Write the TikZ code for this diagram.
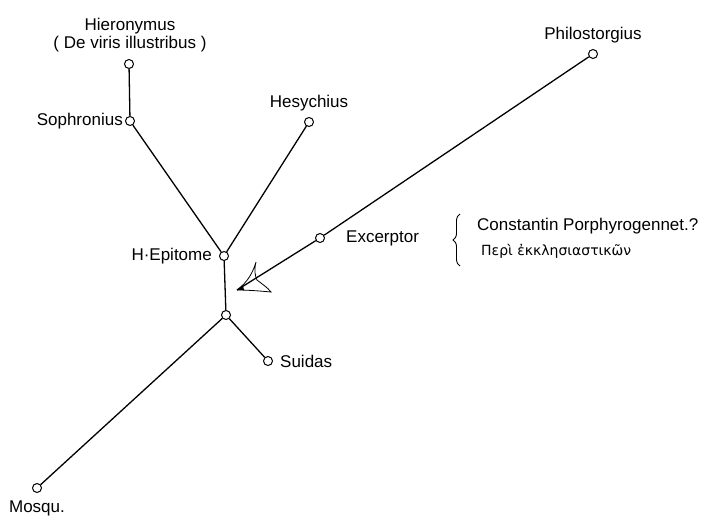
\documentclass[tikz,border=0pt]{standalone}
\usepackage{fontspec}
\setmainfont{Liberation Sans}
\newfontfamily\greekfont[Script=Greek]{DejaVu Sans}
\usetikzlibrary{positioning,decorations.pathreplacing}

\begin{document}
\begin{tikzpicture}[x=1pt,y=-1pt,
    stemma/.style={circle,draw,line width=1pt,fill=white,inner sep=0pt,minimum size=9pt},
    lbl/.style={font=\fontsize{17}{20}\selectfont,inner sep=1pt},
    link/.style={line width=1.3pt}]
  \useasboundingbox (0,0) rectangle (727,521);
  % handschriften
  \node[stemma] (Hie) at (129,64) {};
  \node[stemma] (Sop) at (130,121) {};
  \node[stemma] (Hes) at (309,122) {};
  \node[stemma] (Phi) at (593,54) {};
  \node[stemma] (Exc) at (320,238) {};
  \node[stemma] (Epi) at (224,256) {};
  \node[stemma] (Jun) at (226,315) {};
  \node[stemma] (Sui) at (268,361) {};
  \node[stemma] (Mos) at (37,488) {};
  \coordinate (Tip) at (237,290);
  % namen
  \node[lbl] (HieT) at (130,44) {( De viris illustribus )};
  \node[lbl,above=0pt of HieT] {Hieronymus};
  \node[lbl,left=1pt of Sop] {Sophronius};
  \node[lbl,above=5pt of Hes] {Hesychius};
  \node[lbl,above=5pt of Phi] {Philostorgius};
  \node[lbl,left=6pt of Epi] {H·Epitome};
  \node[lbl,right=20pt of Exc] (ExcT) {Excerptor};
  \node[lbl,right=6pt of Sui] {Suidas};
  \node[lbl,below=7pt of Mos] {Mosqu.};
  \node[lbl,anchor=west] (Con) at (476,226) {Constantin Porphyrogennet.?};
  \node[lbl,anchor=west] (Per) at (480,251) {\greekfont\fontsize{14}{17}\selectfont Περὶ ἐκκλησιαστικῶν};
  \draw[line width=0.9pt,decorate,decoration={brace,amplitude=7pt}] (460,266) -- (460,214);
  % linien
  \draw[link] (Hie) -- (Sop);
  \draw[link] (Sop) -- (Epi);
  \draw[link] (Hes) -- (Epi);
  \draw[link] (Epi) -- (Jun);
  \draw[link] (Jun) -- (Sui);
  \draw[link] (Jun) -- (Mos);
  \draw[link] (Phi) -- (Exc);
  \draw[link] (Exc) -- (Tip);
  % pfeilspitze
  \draw[line width=0.8pt] (Tip) .. controls (248,282) and (253,272) .. (256,262)
    .. controls (254,270) and (255,276) .. (257,280)
    .. controls (262,284) and (267,287) .. (271,292)
    .. controls (260,291) and (248,290) .. (Tip);
  \fill (Tip) -- (243,286) -- (244,290) -- cycle;
\end{tikzpicture}
\end{document}
